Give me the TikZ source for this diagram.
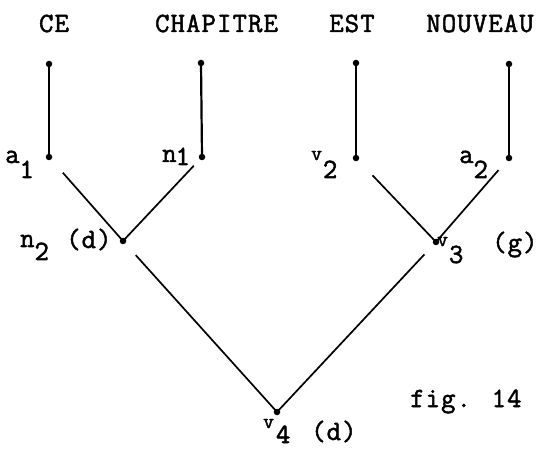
\documentclass[tikz,border=0pt]{standalone}
\usepackage{fontspec}
\newfontfamily\tw[FakeBold=1.8,LetterSpace=4]{Latin Modern Mono}
\begin{document}
\begin{tikzpicture}[x=1bp,y=-1bp,
  dot/.style={circle,fill=black,inner sep=0pt,minimum size=6.5bp},
  word/.style={font=\tw\fontsize{28}{30}\selectfont,inner sep=0pt,anchor=base},
  lab/.style={font=\tw\fontsize{28}{30}\selectfont,inner sep=0pt,anchor=base west},
  stem/.style={line width=2.2bp},
  edge/.style={line width=1.7bp}]
\useasboundingbox (0,0) rectangle (543,450);
\newcommand{\smv}{{\fontsize{21}{21}\selectfont v}}
% words
\node[word] (w1) at (54,32) {CE};
\node[word] (w2) at (216.5,32) {CHAPITRE};
\node[word] (w3) at (352,32) {EST};
\node[word] (w4) at (480,32) {NOUVEAU};
% dots
\node[dot] (t1) at (49,64) {};
\node[dot] (t2) at (201,63) {};
\node[dot] (t3) at (356,63) {};
\node[dot] (t4) at (509,64) {};
\node[dot] (a1) at (49,157) {};
\node[dot] (n1) at (202,157) {};
\node[dot] (v2) at (356,158) {};
\node[dot] (a2) at (509,158) {};
\node[dot] (n2) at (123,241) {};
\node[dot] (v3) at (436,242) {};
\node[dot] (v4) at (277,412) {};
% stems
\draw[stem] (t1.center) -- (a1.center);
\draw[stem] (t2.center) -- (n1.center);
\draw[stem] (t3.center) -- (v2.center);
\draw[stem] (t4.center) -- (a2.center);
% edges
\draw[edge,shorten <=21bp] (a1.center) -- (n2.center);
\draw[edge,shorten <=12bp] (n1.center) -- (n2.center);
\draw[edge,shorten <=24bp] (v2.center) -- (v3.center);
\draw[edge,shorten <=16bp] (a2.center) -- (v3.center);
\draw[edge,shorten <=19bp] (n2.center) -- (v4.center);
\draw[edge,shorten <=17bp] (v3.center) -- (v4.center);
% labels
\node[lab] (la1) at (5,163) {a\raisebox{-15bp}{1}};
\node[lab] (ln1) at (162,162) {n\kern-1bp\raisebox{-3bp}{1}};
\node[lab] (lv2) at (311,160) {\smv\kern1bp\raisebox{-18bp}{2}};
\node[lab] (la2) at (459,163) {a\raisebox{-15bp}{2}};
\node[lab] (ln2) at (20,247) {n\raisebox{-13bp}{2}};
\node[lab] (dn2) at (66,248) {(d)};
\node[lab] (lv3) at (437,246) {\smv\kern1bp\raisebox{-17bp}{3}};
\node[lab] (gv3) at (492,251) {(g)};
\node[lab] (lv4) at (263,428) {\smv\kern2bp\raisebox{-15bp}{4}};
\node[lab] (dv4) at (311,440) {(d)};
\node[lab] (fig) at (410,407) {fig. 14};
\end{tikzpicture}
\end{document}
